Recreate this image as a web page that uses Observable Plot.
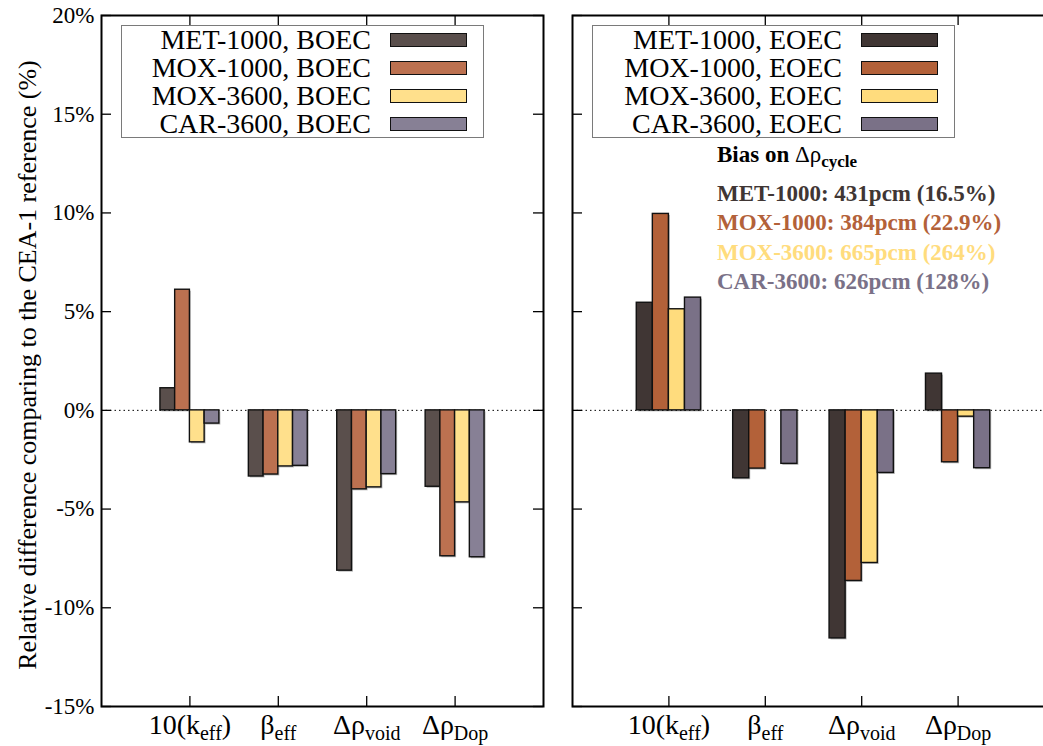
<!DOCTYPE html>
<html>
<head>
<meta charset="utf-8">
<script src="https://cdn.jsdelivr.net/npm/d3@7"></script>
<script src="https://cdn.jsdelivr.net/npm/@observablehq/plot@0.6"></script>
<style>
  html, body { margin: 0; padding: 0; background: #fff; }
  #chart { position: relative; width: 1043px; height: 746px; overflow: hidden; font-family: "Liberation Serif", "Times New Roman", serif; color: #000; }
  #chart > svg { position: absolute; top: 0; font-family: "Liberation Serif", "Times New Roman", serif; }
  .legend { position: absolute; top: 25px; width: 363px; height: 113px; box-sizing: border-box; border: 1.5px solid #7a7a7a; background: #fff; }
  .legend .row { position: absolute; left: 0; width: 100%; height: 28px; }
  .legend .lab { position: absolute; right: 112px; top: 0; line-height: 28px; font-size: 28px; white-space: nowrap; }
  .legend .sw { position: absolute; left: 268px; width: 77px; height: 14px; box-sizing: border-box; border: 1.5px solid #111; top: 7px; }
  .bias { position: absolute; left: 717px; font-weight: bold; font-size: 23px; line-height: 23px; white-space: nowrap; }
</style>
</head>
<body>
<div id="chart"></div>
<script>
// Quantities compared (tick labels are split into main text, subscript and trailing text)
const catMain = ["10(k", "\u03b2", "\u0394\u03c1", "\u0394\u03c1"];
const catSub = ["eff", "eff", "void", "Dop"];
const catTail = [")", "", "", ""];

// Core designs
const cores = ["MET-1000", "MOX-1000", "MOX-3600", "CAR-3600"];

// Relative difference to the CEA-1 reference (%) at beginning of equilibrium cycle
const metBoec = [1.12, -3.35, -8.12, -3.87];
const mox1000Boec = [6.11, -3.25, -4.00, -7.39];
const mox3600Boec = [-1.62, -2.84, -3.90, -4.66];
const car3600Boec = [-0.67, -2.81, -3.23, -7.44];

// Relative difference to the CEA-1 reference (%) at end of equilibrium cycle
const metEoec = [5.45, -3.44, -11.55, 1.86];
const mox1000Eoec = [9.95, -2.95, -8.64, -2.63];
const mox3600Eoec = [5.12, null, -7.73, -0.32];
const car3600Eoec = [5.71, -2.71, -3.17, -2.93];

// Bias on the cycle reactivity swing
const biasPcm = [431, 384, 665, 626];
const biasPct = ["16.5", "22.9", "264", "128"];

const yTicks = [-15, -10, -5, 0, 5, 10, 15, 20];
const yTitle = "Relative difference comparing to the CEA-1 reference (%)";

const boecColors = ["#5a4f4c", "#bc7150", "#ffe08c", "#878095"];
const eoecColors = ["#403634", "#b36139", "#ffdc7d", "#7a7187"];

const serif = "'Liberation Serif', 'Times New Roman', serif";
const H = 746, MT = 15, MB = 40;
const frameH = H - MT - MB;
const groupBar = 1 / 6; // each bar is a sixth of a category step

function rowsOf(seriesList) {
  const rows = [];
  seriesList.forEach((vals, j) => {
    vals.forEach((v, i) => {
      if (v != null) rows.push({cat: i, series: j, value: v});
    });
  });
  return rows;
}

function panel({seriesList, colors, width, marginLeft, marginRight, leftLabels}) {
  const frameW = width - marginLeft - marginRight;
  const rows = rowsOf(seriesList);
  const x1 = d => d.cat + 1 + (d.series - 2) * groupBar;
  const x2 = d => d.cat + 1 + (d.series - 1) * groupBar;
  const catPos = catMain.map((_, i) => i + 1);
  const marks = [
    Plot.ruleY([0], {stroke: "#000", strokeWidth: 1, strokeDasharray: "1.5,3"}),
    Plot.rect(rows, {x1, x2, y1: 0, y2: "value", fill: "#000", fillOpacity: 0.28, dx: 1.5, dy: 1.5}),
    Plot.rect(rows, {x1, x2, y1: 0, y2: "value", fill: d => colors[d.series], stroke: "#111", strokeWidth: 1.4}),
    // inward ticks on all four sides
    Plot.tickY(yTicks, {y: d => d, stroke: "#000", strokeWidth: 1.3, insetRight: frameW - 10}),
    Plot.tickY(yTicks, {y: d => d, stroke: "#000", strokeWidth: 1.3, insetLeft: frameW - 10}),
    Plot.tickX(catPos, {x: d => d, stroke: "#000", strokeWidth: 1.3, insetBottom: frameH - 10}),
    Plot.tickX(catPos, {x: d => d, stroke: "#000", strokeWidth: 1.3, insetTop: frameH - 10}),
    Plot.frame({stroke: "#000", strokeWidth: 2}),
    Plot.axisX({ticks: catPos, tickSize: 0, tickPadding: 8, fontSize: 28, fontFamily: serif, label: null, tickFormat: d => catMain[d - 1]})
  ];
  if (leftLabels) {
    marks.push(Plot.axisY({ticks: yTicks, tickSize: 0, tickPadding: 7, fontSize: 23, fontFamily: serif, label: null, tickFormat: d => d + "%"}));
    marks.push(Plot.text([yTitle], {text: d => d, frameAnchor: "left", textAnchor: "middle", lineAnchor: "middle", rotate: -90, dx: -74, dy: 4, fontSize: 26, fontFamily: serif}));
  }
  const svg = Plot.plot({
    width, height: H,
    marginTop: MT, marginBottom: MB, marginLeft, marginRight,
    style: {fontFamily: serif, fontSize: "23px", background: "#fff", color: "#000"},
    x: {domain: [0, 5], axis: null, label: null},
    y: {domain: [-15, 20], axis: null, label: null},
    color: {type: "identity"},
    marks
  });
  // subscripts in the category labels
  d3.select(svg).selectAll('g[aria-label="x-axis tick label"] text').each(function(_, i) {
    const t = d3.select(this);
    t.text(null);
    t.append("tspan").text(catMain[i]);
    t.append("tspan").attr("font-size", 20).attr("dy", 6).text(catSub[i]);
    if (catTail[i]) t.append("tspan").attr("dy", -6).text(catTail[i]);
  });
  return svg;
}

const chart = document.getElementById("chart");

const left = panel({seriesList: [metBoec, mox1000Boec, mox3600Boec, car3600Boec], colors: boecColors, width: 545, marginLeft: 101, marginRight: 2, leftLabels: true});
left.style.left = "0px";
chart.appendChild(left);

const right = panel({seriesList: [metEoec, mox1000Eoec, mox3600Eoec, car3600Eoec], colors: eoecColors, width: 486, marginLeft: 2, marginRight: 2, leftLabels: false});
right.style.left = "570px";
chart.appendChild(right);

function legend(leftPx, suffix, colors) {
  const box = document.createElement("div");
  box.className = "legend";
  box.style.left = leftPx + "px";
  cores.forEach((name, i) => {
    const row = document.createElement("div");
    row.className = "row";
    row.style.top = (i * 28) + "px";
    const lab = document.createElement("span");
    lab.className = "lab";
    lab.textContent = name + ", " + suffix;
    const sw = document.createElement("span");
    sw.className = "sw";
    sw.style.background = colors[i];
    row.appendChild(lab);
    row.appendChild(sw);
    box.appendChild(row);
  });
  chart.appendChild(box);
}
legend(121, "BOEC", boecColors);
legend(592, "EOEC", eoecColors);

// bias annotation
const head = document.createElement("div");
head.className = "bias";
head.style.top = (162 - 19) + "px";
head.innerHTML = 'Bias on <span style="font-weight:normal">\u0394\u03c1</span><span style="position:relative;top:5px;font-size:17px">cycle</span>';
chart.appendChild(head);
cores.forEach((name, i) => {
  const line = document.createElement("div");
  line.className = "bias";
  line.style.top = (201 + i * 29.4 - 19) + "px";
  line.style.color = eoecColors[i];
  line.textContent = name + ": " + biasPcm[i] + "pcm (" + biasPct[i] + "%)";
  chart.appendChild(line);
});
</script>
</body>
</html>
